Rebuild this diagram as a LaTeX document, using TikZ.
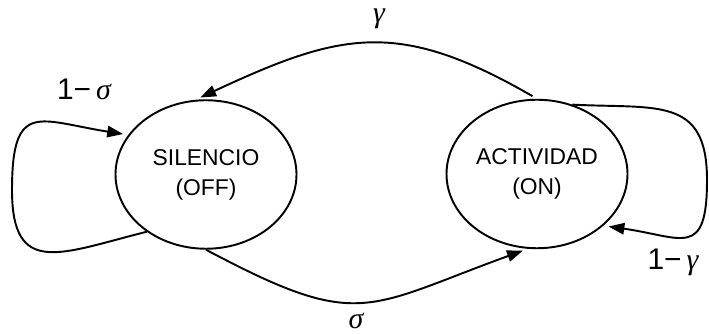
\documentclass[tikz,border=0pt]{standalone}
\usepackage{fontspec}
\setmainfont{Liberation Sans}
\newfontfamily\griega{Liberation Serif}
\usetikzlibrary{shapes.geometric}
\usetikzlibrary{arrows.meta}

\tikzset{
	estado/.style={draw, ellipse, line width=1.1pt, minimum width=3.62cm, minimum height=2.97cm, inner sep=0pt, align=center, font=\fontsize{13}{17}\selectfont},
	trans/.style={line width=1.1pt, -{Triangle[length=9pt,width=6.5pt]}, shorten >=3pt},
	prob/.style={font=\fontsize{17}{20}\selectfont, inner sep=0pt}
}

\begin{document}
\begin{tikzpicture}
	\useasboundingbox (0,0) rectangle (14.18,6.68);

	\node[estado] (off) at (4.12,3.19) {SILENCIO\\(OFF)};
	\node[estado] (on) at (10.74,3.20) {ACTIVIDAD\\(ON)};

	\coordinate (bucleoff) at (0.24,2.88);
	\coordinate (bucleon) at (14.14,3.08);

	% transiciones entre estados
	\draw[trans, shorten <=3pt] (on.north) to[out=150, in=25, looseness=1.2] (off.98);
	\draw[trans] (off.270) to[out=-28, in=200, looseness=1.38] (on.263);

	% permanencia
	\draw[trans] (off.224) to[out=194, in=-90, looseness=1.6] (bucleoff) to[out=90, in=171, looseness=1.8] (off.153);
	\draw[trans] (on.63) to[out=-3, in=90, looseness=1.4] (bucleon) to[out=-90, in=-8, looseness=1.8] (on.322);

	\node[prob] (pgamma) at (7.58,6.30) {{\griega\itshape γ}};
	\node[prob] (psigma) at (7.12,0.26) {{\griega\itshape σ}};
	\node[prob] (pnosigma) at (1.68,4.90) {1−\,{\griega\itshape σ}};
	\node[prob] (pnogamma) at (13.46,1.44) {1−\,{\griega\itshape γ}};
\end{tikzpicture}
\end{document}
